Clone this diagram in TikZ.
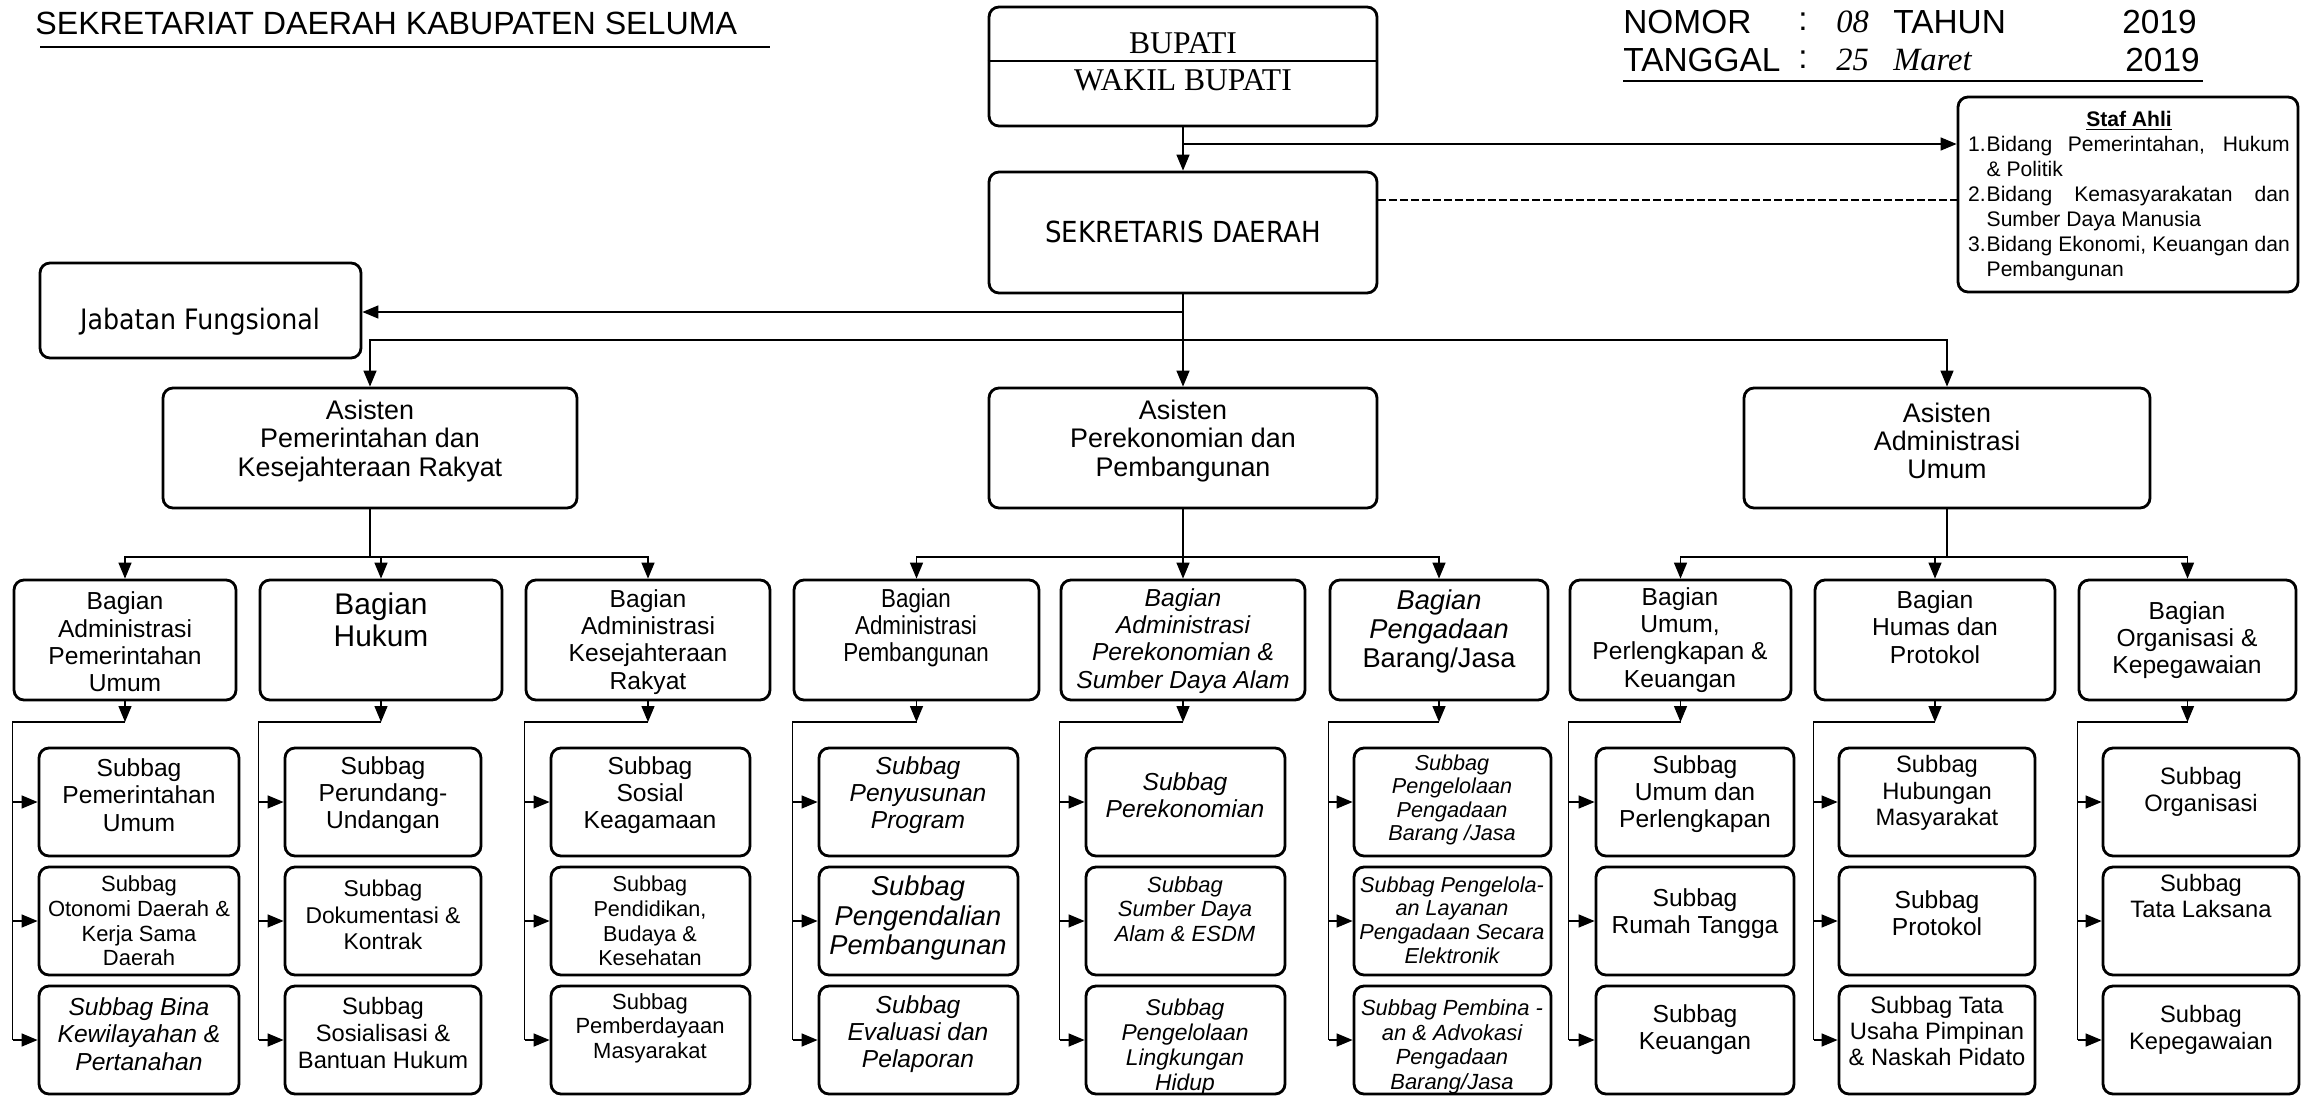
\documentclass[tikz,border=0pt]{standalone}
\usepackage{fontspec}
\setmainfont{Liberation Sans}
\newfontfamily\timesfont{Liberation Serif}
\newfontfamily\sekfont[FakeStretch=0.9]{DejaVu Sans}
\newfontfamily\sempit[FakeStretch=0.86]{Liberation Sans}
\usetikzlibrary{arrows.meta,fit}

\begin{document}
\begin{tikzpicture}[x=0.2mm,y=-0.2mm,
    kotak/.style={draw, line width=1.6pt, rounded corners=2mm, inner sep=0pt},
    teks/.style={align=center, inner sep=0pt},
    garis/.style={line width=0.8pt},
    panah/.style={line width=0.8pt, -{Triangle[length=3.2mm,width=2.6mm]}},
    info/.style={inner sep=0pt, font=\fontsize{19}{21}\selectfont},
    tangan/.style={inner sep=0pt, font=\timesfont\itshape\fontsize{18.5}{20}\selectfont},
    asisten/.style={teks, font=\fontsize{15.3}{16}\selectfont},
    bagian/.style={teks, font=\fontsize{14}{15.5}\selectfont},
    subbag/.style={teks, font=\fontsize{14}{15.5}\selectfont},
    subbagit/.style={teks, font=\fontsize{14}{15.5}\selectfont\itshape},
    kecil/.style={teks, font=\fontsize{12.5}{14}\selectfont},
    kecilit/.style={teks, font=\fontsize{12.3}{13.4}\selectfont\itshape}]

    \fill[white] (0,0) rectangle (2307,1097);
    \useasboundingbox (0,0) rectangle (2307,1097);

    % kepala
    \node[anchor=west, inner sep=0pt, font=\fontsize{18.3}{20}\selectfont] (judul) at (35,23) {SEKRETARIAT DAERAH KABUPATEN SELUMA};
    \draw[line width=1pt] (40,47) -- (770,47);

    \node[info, anchor=west] (nomor) at (1623,22) {NOMOR};
    \node[info] (titik1) at (1803,22) {:};
    \node[tangan, anchor=west] (nomorisi) at (1836,22) {08};
    \node[info, anchor=west] (tahun) at (1893,22) {TAHUN};
    \node[info, anchor=east] (tahunisi) at (2197,22) {2019};
    \node[info, anchor=west] (tanggal) at (1623,60) {TANGGAL};
    \node[info] (titik2) at (1803,60) {:};
    \node[tangan, anchor=west] (tgl) at (1836,60) {25};
    \node[tangan, anchor=west] (bulan) at (1893,60) {Maret};
    \node[info, anchor=east] (tahun2) at (2200,60) {2019};
    \draw[line width=1pt] (1623,81) -- (2203,81);

    % pimpinan
    \node[kotak, fit={(989,7) (1377,126)}] (bupati) {};
    \draw[line width=1.2pt] (bupati.west |- 0,61) -- (bupati.east |- 0,61);
    \node[teks, font=\timesfont\fontsize{18}{20}\selectfont] (bupatit) at (1183,43) {BUPATI};
    \node[teks, font=\timesfont\fontsize{18}{20}\selectfont] (wakilt) at (1183,80) {WAKIL BUPATI};

    \node[kotak, fit={(989,172) (1377,293)}] (sekda) {};
    \node[teks, font=\sekfont\fontsize{16.5}{18}\selectfont] (sekdat) at (1183,232) {SEKRETARIS DAERAH};

    \node[kotak, fit={(1958,97) (2298,292)}] (staf) {};
    \node[align=left, inner sep=0pt, font=\fontsize{12}{14.2}\selectfont] (staft) at (2129,196) {%
        \makebox[183pt]{\underline{\textbf{Staf Ahli}}}\\
        \makebox[10.5pt][l]{1.}\makebox[172.5pt][s]{Bidang Pemerintahan, Hukum}\\
        \hspace*{10.5pt}\& Politik\\
        \makebox[10.5pt][l]{2.}\makebox[172.5pt][s]{Bidang Kemasyarakatan dan}\\
        \hspace*{10.5pt}Sumber Daya Manusia\\
        \makebox[10.5pt][l]{3.}\makebox[172.5pt][s]{Bidang Ekonomi, Keuangan dan}\\
        \hspace*{10.5pt}Pembangunan};

    \node[kotak, fit={(40,263) (361,358)}] (jabatan) {};
    \node[teks, font=\sekfont\fontsize{16}{18}\selectfont] (jabatant) at (200,322) {Jabatan Fungsional};

    % asisten
    \node[kotak, fit={(163,388) (577,508)}] (as1) {};
    \node[asisten] (as1t) at (370,441) {Asisten\\Pemerintahan dan\\Kesejahteraan Rakyat};
    \node[kotak, fit={(989,388) (1377,508)}] (as2) {};
    \node[asisten] (as2t) at (1183,441) {Asisten\\Perekonomian dan\\Pembangunan};
    \node[kotak, fit={(1744,388) (2150,508)}] (as3) {};
    \node[asisten] (as3t) at (1947,441) {Asisten\\Administrasi\\Umum};

    % bagian
    \node[kotak, fit={(14,580) (236,700)}] (bag1) {};
    \node[bagian] (bag1t) at (125,642) {Bagian\\Administrasi\\Pemerintahan\\Umum};
    \node[kotak, fit={(260,580) (502,700)}] (bag2) {};
    \node[bagian, font=\fontsize{17}{18.5}\selectfont] (bag2t) at (381,620) {Bagian\\Hukum};
    \node[kotak, fit={(526,580) (770,700)}] (bag3) {};
    \node[bagian] (bag3t) at (648,642) {Bagian\\Administrasi\\Kesejahteraan\\Rakyat};
    \node[kotak, fit={(794,580) (1039,700)}] (bag4) {};
    \node[bagian, font=\sempit\fontsize{14.8}{15.5}\selectfont] (bag4t) at (916,628) {Bagian\\Administrasi\\Pembangunan};
    \node[kotak, fit={(1061,580) (1305,700)}] (bag5) {};
    \node[bagian, font=\fontsize{14}{15.5}\selectfont\itshape] (bag5t) at (1183,641) {Bagian\\Administrasi\\Perekonomian \&\\Sumber Daya Alam};
    \node[kotak, fit={(1330,580) (1548,700)}] (bag6) {};
    \node[bagian, font=\fontsize{15.5}{16.5}\selectfont] (bag6t) at (1439,631) {\textit{Bagian}\\\textit{Pengadaan}\\Barang/Jasa};
    \node[kotak, fit={(1570,580) (1791,700)}] (bag7) {};
    \node[bagian] (bag7t) at (1680,640) {Bagian\\Umum,\\Perlengkapan \&\\Keuangan};
    \node[kotak, fit={(1815,580) (2055,700)}] (bag8) {};
    \node[bagian] (bag8t) at (1935,627) {Bagian\\Humas dan\\Protokol};
    \node[kotak, fit={(2079,580) (2296,700)}] (bag9) {};
    \node[bagian] (bag9t) at (2187,640) {Bagian\\Organisasi \&\\Kepegawaian};

    % subbag
    \node[kotak, fit={(39,748) (239,856)}] (sb11) {};
    \node[subbag] (sb11t) at (139,795) {Subbag\\Pemerintahan\\Umum};
    \node[kotak, fit={(39,867) (239,975)}] (sb12) {};
    \node[kecil] (sb12t) at (139,921) {Subbag\\Otonomi Daerah \&\\Kerja Sama\\Daerah};
    \node[kotak, fit={(39,986) (239,1094)}] (sb13) {};
    \node[subbagit] (sb13t) at (139,1034) {Subbag Bina\\Kewilayahan \&\\Pertanahan};

    \node[kotak, fit={(285,748) (481,856)}] (sb21) {};
    \node[subbag] (sb21t) at (383,795) {Subbag\\Perundang-\\Undangan};
    \node[kotak, fit={(285,867) (481,975)}] (sb22) {};
    \node[subbag, font=\fontsize{13}{15}\selectfont] (sb22t) at (383,915) {Subbag\\Dokumentasi \&\\Kontrak};
    \node[kotak, fit={(285,986) (481,1094)}] (sb23) {};
    \node[subbag, font=\fontsize{13.5}{15.3}\selectfont] (sb23t) at (383,1033) {Subbag\\Sosialisasi \&\\Bantuan Hukum};

    \node[kotak, fit={(551,748) (750,856)}] (sb31) {};
    \node[subbag] (sb31t) at (650,795) {Subbag\\Sosial\\Keagamaan};
    \node[kotak, fit={(551,867) (750,975)}] (sb32) {};
    \node[kecil, font=\fontsize{12.3}{14}\selectfont] (sb32t) at (650,921) {Subbag\\Pendidikan,\\Budaya \&\\Kesehatan};
    \node[kotak, fit={(551,986) (750,1094)}] (sb33) {};
    \node[kecil] (sb33t) at (650,1028) {Subbag\\Pemberdayaan\\Masyarakat};

    \node[kotak, fit={(819,748) (1018,856)}] (sb41) {};
    \node[subbagit] (sb41t) at (918,795) {Subbag\\Penyusunan\\Program};
    \node[kotak, fit={(819,867) (1018,975)}] (sb42) {};
    \node[subbagit, font=\fontsize{15.5}{17}\selectfont\itshape] (sb42t) at (918,918) {Subbag\\Pengendalian\\Pembangunan};
    \node[kotak, fit={(819,986) (1018,1094)}] (sb43) {};
    \node[subbagit] (sb43t) at (918,1034) {Subbag\\Evaluasi dan\\Pelaporan};

    \node[kotak, fit={(1086,748) (1285,856)}] (sb51) {};
    \node[subbagit] (sb51t) at (1185,795) {Subbag\\Perekonomian};
    \node[kotak, fit={(1086,867) (1285,975)}] (sb52) {};
    \node[kecilit, font=\fontsize{12.5}{13.8}\selectfont\itshape] (sb52t) at (1185,909) {Subbag\\Sumber Daya\\Alam \& ESDM};
    \node[kotak, fit={(1086,986) (1285,1094)}] (sb53) {};
    \node[kecilit, font=\fontsize{13}{14.2}\selectfont\itshape] (sb53t) at (1185,1047) {Subbag\\Pengelolaan\\Lingkungan\\Hidup};

    \node[kotak, fit={(1354,748) (1551,856)}] (sb61) {};
    \node[kecilit] (sb61t) at (1452,800) {Subbag\\Pengelolaan\\Pengadaan\\Barang /Jasa};
    \node[kotak, fit={(1354,867) (1551,975)}] (sb62) {};
    \node[kecilit] (sb62t) at (1452,920) {Subbag Pengelola-\\an Layanan\\Pengadaan Secara\\Elektronik};
    \node[kotak, fit={(1354,986) (1551,1094)}] (sb63) {};
    \node[kecilit, font=\fontsize{12.5}{14}\selectfont\itshape] (sb63t) at (1452,1047) {Subbag Pembina -\\an \& Advokasi\\Pengadaan\\Barang/Jasa};

    \node[kotak, fit={(1596,748) (1794,856)}] (sb71) {};
    \node[subbag] (sb71t) at (1695,794) {Subbag\\Umum dan\\Perlengkapan};
    \node[kotak, fit={(1596,867) (1794,975)}] (sb72) {};
    \node[subbag] (sb72t) at (1695,914) {Subbag\\Rumah Tangga};
    \node[kotak, fit={(1596,986) (1794,1094)}] (sb73) {};
    \node[subbag] (sb73t) at (1695,1030) {Subbag\\Keuangan};

    \node[kotak, fit={(1839,748) (2035,856)}] (sb81) {};
    \node[subbag, font=\fontsize{13.5}{15}\selectfont] (sb81t) at (1937,793) {Subbag\\Hubungan\\Masyarakat};
    \node[kotak, fit={(1839,867) (2035,975)}] (sb82) {};
    \node[subbag] (sb82t) at (1937,913) {Subbag\\Protokol};
    \node[kotak, fit={(1839,986) (2035,1094)}] (sb83) {};
    \node[subbag, font=\fontsize{13.5}{15}\selectfont] (sb83t) at (1937,1031) {Subbag Tata\\Usaha Pimpinan\\\& Naskah Pidato};

    \node[kotak, fit={(2103,748) (2299,856)}] (sb91) {};
    \node[subbag, font=\fontsize{13.5}{15}\selectfont] (sb91t) at (2201,792) {Subbag\\Organisasi};
    \node[kotak, fit={(2103,867) (2299,975)}] (sb92) {};
    \node[subbag, font=\fontsize{13.5}{15}\selectfont] (sb92t) at (2201,896) {Subbag\\Tata Laksana};
    \node[kotak, fit={(2103,986) (2299,1094)}] (sb93) {};
    \node[subbag, font=\fontsize{13.5}{15}\selectfont] (sb93t) at (2201,1030) {Subbag\\Kepegawaian};

    % garis komando atas
    \coordinate (c1) at (1183,144);
    \coordinate (c2) at (1183,312);
    \coordinate (c3) at (1183,340);
    \draw[panah] (bupati) -- (sekda);
    \draw[panah] (c1) -- (c1 -| staf.west);
    \draw[line width=1.1pt, dash pattern=on 1.5mm off 0.7mm] (sekda.east |- 0,200) -- (staf.west |- 0,200);
    \draw[garis] (sekda.south) -- (c3);
    \draw[panah] (c2) -- (c2 -| jabatan.east);
    \draw[panah] (c3) -- (as2.north);
    \draw[panah] (c3) -| (as1.north);
    \draw[panah] (c3) -| (as3.north);

    % asisten ke bagian
    \coordinate (d1) at (as1.south |- 0,557);
    \coordinate (d2) at (as2.south |- 0,557);
    \coordinate (d3) at (as3.south |- 0,557);
    \draw[garis] (as1.south) -- (d1);
    \draw[panah] (d1) -| (bag1.north);
    \draw[panah] (d1) -| (bag2.north);
    \draw[panah] (d1) -| (bag3.north);
    \draw[garis] (as2.south) -- (d2);
    \draw[panah] (d2) -| (bag4.north);
    \draw[panah] (d2) -| (bag5.north);
    \draw[panah] (d2) -| (bag6.north);
    \draw[garis] (as3.south) -- (d3);
    \draw[panah] (d3) -| (bag7.north);
    \draw[panah] (d3) -| (bag8.north);
    \draw[panah] (d3) -| (bag9.north);

    % bagian ke subbag
    \coordinate (e1) at (bag1.south |- 0,722);
    \draw[panah] (bag1.south) -- (e1);
    \draw[garis] (e1) -| (bag1.west |- sb13.west);
    \draw[panah] (bag1.west |- sb11.west) -- (sb11.west);
    \draw[panah] (bag1.west |- sb12.west) -- (sb12.west);
    \draw[panah] (bag1.west |- sb13.west) -- (sb13.west);

    \coordinate (e2) at (bag2.south |- 0,722);
    \draw[panah] (bag2.south) -- (e2);
    \draw[garis] (e2) -| (bag2.west |- sb23.west);
    \draw[panah] (bag2.west |- sb21.west) -- (sb21.west);
    \draw[panah] (bag2.west |- sb22.west) -- (sb22.west);
    \draw[panah] (bag2.west |- sb23.west) -- (sb23.west);

    \coordinate (e3) at (bag3.south |- 0,722);
    \draw[panah] (bag3.south) -- (e3);
    \draw[garis] (e3) -| (bag3.west |- sb33.west);
    \draw[panah] (bag3.west |- sb31.west) -- (sb31.west);
    \draw[panah] (bag3.west |- sb32.west) -- (sb32.west);
    \draw[panah] (bag3.west |- sb33.west) -- (sb33.west);

    \coordinate (e4) at (bag4.south |- 0,722);
    \draw[panah] (bag4.south) -- (e4);
    \draw[garis] (e4) -| (bag4.west |- sb43.west);
    \draw[panah] (bag4.west |- sb41.west) -- (sb41.west);
    \draw[panah] (bag4.west |- sb42.west) -- (sb42.west);
    \draw[panah] (bag4.west |- sb43.west) -- (sb43.west);

    \coordinate (e5) at (bag5.south |- 0,722);
    \draw[panah] (bag5.south) -- (e5);
    \draw[garis] (e5) -| (bag5.west |- sb53.west);
    \draw[panah] (bag5.west |- sb51.west) -- (sb51.west);
    \draw[panah] (bag5.west |- sb52.west) -- (sb52.west);
    \draw[panah] (bag5.west |- sb53.west) -- (sb53.west);

    \coordinate (e6) at (bag6.south |- 0,722);
    \draw[panah] (bag6.south) -- (e6);
    \draw[garis] (e6) -| (bag6.west |- sb63.west);
    \draw[panah] (bag6.west |- sb61.west) -- (sb61.west);
    \draw[panah] (bag6.west |- sb62.west) -- (sb62.west);
    \draw[panah] (bag6.west |- sb63.west) -- (sb63.west);

    \coordinate (e7) at (bag7.south |- 0,722);
    \draw[panah] (bag7.south) -- (e7);
    \draw[garis] (e7) -| (bag7.west |- sb73.west);
    \draw[panah] (bag7.west |- sb71.west) -- (sb71.west);
    \draw[panah] (bag7.west |- sb72.west) -- (sb72.west);
    \draw[panah] (bag7.west |- sb73.west) -- (sb73.west);

    \coordinate (e8) at (bag8.south |- 0,722);
    \draw[panah] (bag8.south) -- (e8);
    \draw[garis] (e8) -| (bag8.west |- sb83.west);
    \draw[panah] (bag8.west |- sb81.west) -- (sb81.west);
    \draw[panah] (bag8.west |- sb82.west) -- (sb82.west);
    \draw[panah] (bag8.west |- sb83.west) -- (sb83.west);

    \coordinate (e9) at (bag9.south |- 0,722);
    \draw[panah] (bag9.south) -- (e9);
    \draw[garis] (e9) -| (bag9.west |- sb93.west);
    \draw[panah] (bag9.west |- sb91.west) -- (sb91.west);
    \draw[panah] (bag9.west |- sb92.west) -- (sb92.west);
    \draw[panah] (bag9.west |- sb93.west) -- (sb93.west);
\end{tikzpicture}
\end{document}
